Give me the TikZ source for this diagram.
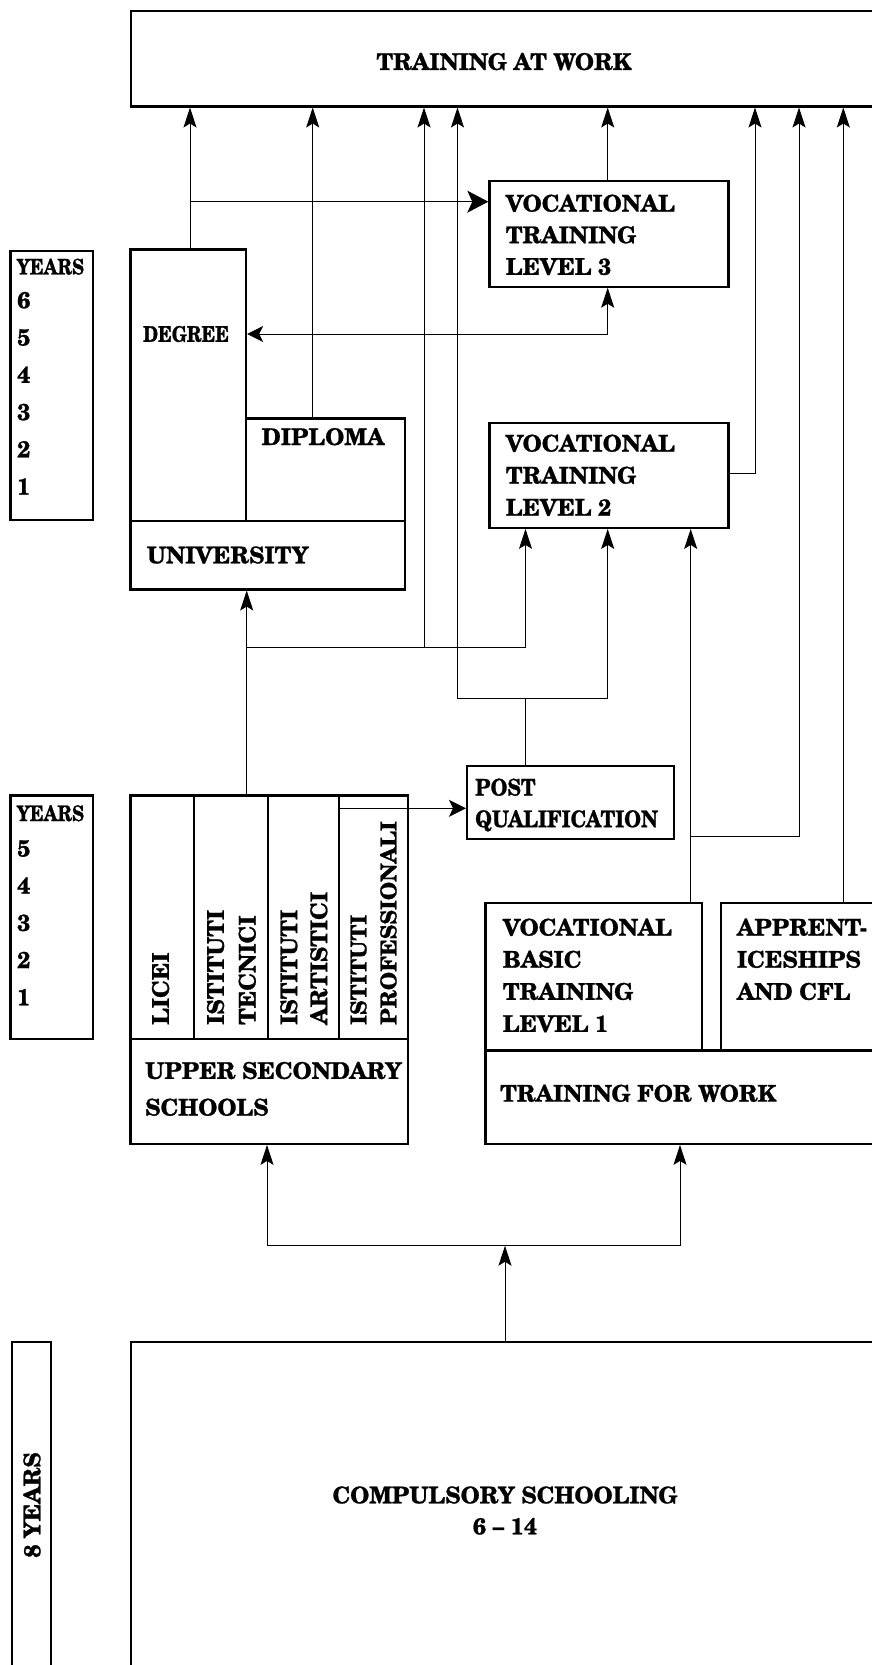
\documentclass[tikz,border=0pt]{standalone}
\usepackage{fontspec}
\setmainfont{texgyreschola}[Extension=.otf, UprightFont=*-regular, BoldFont=*-bold, ItalicFont=*-italic, BoldItalicFont=*-bolditalic, BoldFeatures={FakeBold=1}]
\usetikzlibrary{arrows.meta}
\tikzset{
  box/.style={draw, line width=2.2pt, inner sep=0pt, anchor=north west},
  lbl/.style={inner sep=0pt, font=\fontsize{23}{32}\selectfont\bfseries, align=left, anchor=north west},
  clbl/.style={inner sep=0pt, font=\fontsize{23}{31}\selectfont\bfseries, align=center, anchor=center},
  conn/.style={line width=1pt},
  tip/.style={-{Stealth[length=20pt,width=13pt,inset=4pt]}},
  bigtip/.style={-{Stealth[length=21pt,width=22pt,inset=5pt]}},
  pqtip/.style={-{Stealth[length=17pt,width=17pt,inset=4pt]}},
  dbltip/.style={{Stealth[length=16pt,width=16pt,inset=4pt]}-{Stealth[length=20pt,width=13pt,inset=4pt]}},
}
\newcommand{\cond}[1]{\scalebox{0.84}[1]{#1}}
\newcommand{\narrow}[1]{\scalebox{0.88}[1]{#1}}
\begin{document}
\begin{tikzpicture}[x=1pt,y=-1pt]
\useasboundingbox (0,0) rectangle (872,1665);
\fill[white] (0,0) rectangle (872,1665);
\clip (0,0) rectangle (872,1665);

% boxes
\node[box, minimum width=770, minimum height=95.3] (taw) at (129.6,10) {};
\node[box, minimum width=82.4, minimum height=268.7] (years1) at (9.3,250) {};
\node[box, minimum width=115.7, minimum height=271.7] (degree) at (129.3,248.3) {};
\node[box, minimum width=159, minimum height=102.7] (diploma) at (245,417.3) {};
\node[box, minimum width=274.7, minimum height=68.3] (univ) at (129.3,520) {};
\node[box, minimum width=239, minimum height=105.5] (vt3) at (488.3,180) {};
\node[box, minimum width=239, minimum height=105] (vt2) at (488.3,421.7) {};
\node[box, minimum width=206.7, minimum height=72.7] (pq) at (466,765) {};
\node[box, minimum width=82.4, minimum height=243.4] (years2) at (9.3,794.3) {};
\node[box, minimum width=277.4, minimum height=348.4] (uss) at (129.3,794.3) {};
\node[box, minimum width=63.4, minimum height=243.4] (licei) at (129.3,794.3) {};
\node[box, minimum width=74, minimum height=243.4] (tecnici) at (192.7,794.3) {};
\node[box, minimum width=71, minimum height=243.4] (artistici) at (266.7,794.3) {};
\node[box, minimum width=69, minimum height=243.4] (profess) at (337.7,794.3) {};
\node[box, minimum width=216.4, minimum height=147.6] (vbt) at (484.3,901.7) {};
\node[box, minimum width=200, minimum height=147.6] (app) at (720,901.7) {};
\node[box, minimum width=420, minimum height=93.4] (tfw) at (484.3,1049.3) {};
\node[box, minimum width=39, minimum height=400] (years3) at (11,1340.7) {};
\node[box, minimum width=800, minimum height=400] (cs) at (129.6,1341) {};

% texts
\node[clbl] (tawt) at (504,61.6) {TRAINING AT WORK};
\node[lbl, anchor=west, font=\fontsize{21.5}{32}\selectfont\bfseries] (y1t) at (16.7,266.7) {\cond{YEARS}};
\node[lbl, font=\fontsize{23}{37.3}\selectfont\bfseries] (y1n) at (17,291.7) {6\\5\\4\\3\\2\\1};
\node[clbl, font=\fontsize{21.5}{32}\selectfont\bfseries] (degt) at (186,334) {\cond{DEGREE}};
\node[clbl] (dipt) at (323,436.7) {DIPLOMA};
\node[lbl, anchor=west] (univt) at (146.7,555) {UNIVERSITY};
\node[lbl, font=\fontsize{23}{31.6}\selectfont\bfseries] (vt3t) at (505.7,194.4) {VOCATIONAL\\TRAINING\\LEVEL 3};
\node[lbl] (vt2t) at (505.7,434.4) {VOCATIONAL\\TRAINING\\LEVEL 2};
\node[lbl, font=\fontsize{23}{31.6}\selectfont\bfseries] (pqt) at (475,778.4) {\narrow{POST}\\\narrow{QUALIFICATION}};
\node[lbl, anchor=west, font=\fontsize{21.5}{32}\selectfont\bfseries] (y2t) at (16.7,813.3) {\cond{YEARS}};
\node[lbl, font=\fontsize{23}{37.2}\selectfont\bfseries] (y2n) at (17,840) {5\\4\\3\\2\\1};
\node[lbl, rotate=90] (liceit) at (151.7,1025) {LICEI};
\node[lbl, rotate=90, font=\fontsize{23}{31.7}\selectfont\bfseries] (tecnicit) at (206.7,1025) {ISTITUTI\\TECNICI};
\node[lbl, rotate=90, font=\fontsize{23}{30}\selectfont\bfseries] (artisticit) at (280,1025) {ISTITUTI\\ARTISTICI};
\node[lbl, rotate=90, font=\fontsize{22}{30}\selectfont\bfseries] (professt) at (350,1025) {ISTITUTI\\PROFESSIONALI};
\node[lbl, font=\fontsize{23}{36.7}\selectfont\bfseries] (usst) at (145,1061.7) {UPPER SECONDARY\\SCHOOLS};
\node[lbl, font=\fontsize{23}{32.1}\selectfont\bfseries] (vbtt) at (502.7,918.4) {VOCATIONAL\\BASIC\\TRAINING\\LEVEL 1};
\node[lbl, font=\fontsize{23}{32.1}\selectfont\bfseries] (appt) at (736.7,918.4) {APPRENT-\\ICESHIPS\\AND CFL};
\node[lbl, anchor=west] (tfwt) at (500,1093.3) {TRAINING FOR WORK};
\node[clbl, rotate=90] (y3t) at (32,1505) {8 YEARS};
\node[clbl] (cst) at (505,1510.5) {COMPULSORY SCHOOLING\\6 -- 14};

% connector guide coordinates
\coordinate (xa) at (190,0);
\coordinate (xb) at (312.7,0);
\coordinate (xc) at (424,0);
\coordinate (xd) at (457.5,0);
\coordinate (xe) at (607.7,0);
\coordinate (xf) at (755,0);
\coordinate (xg) at (799,0);
\coordinate (xh) at (843.3,0);
\coordinate (xu) at (246.7,0);
\coordinate (xv) at (525.5,0);
\coordinate (xw) at (690.7,0);
\coordinate (xs) at (267,0);
\coordinate (xt) at (680,0);
\coordinate (xcs) at (505,0);
\coordinate (ya) at (0,201.7);
\coordinate (yb) at (0,334);
\coordinate (yc) at (0,647.3);
\coordinate (yd) at (0,698);
\coordinate (ye) at (0,473.3);
\coordinate (yf) at (0,836.7);
\coordinate (yg) at (0,808.3);
\coordinate (yh) at (0,1245.7);

% connectors
\draw[conn,tip] (xa |- degree.north) -- (xa |- taw.south);
\draw[conn,bigtip] (xa |- ya) -- (ya -| vt3.west);
\draw[conn,tip] (xb |- diploma.north) -- (xb |- taw.south);
\draw[conn,tip] (xu |- uss.north) -- (xu |- univ.south);
\draw[conn,tip] (xu |- yc) -- (xv |- yc) -- (xv |- vt2.south);
\draw[conn,tip] (xc |- yc) -- (xc |- taw.south);
\draw[conn,tip] (xv |- pq.north) -- (xv |- yd) -- (xd |- yd) -- (xd |- taw.south);
\draw[conn,tip] (xv |- yd) -- (xe |- yd) -- (xe |- vt2.south);
\draw[conn,tip] (xe |- vt3.north) -- (xe |- taw.south);
\draw[conn,dbltip] (yb -| degree.east) -- (xe |- yb) -- (xe |- vt3.south);
\draw[conn,tip] (ye -| vt2.east) -- (xf |- ye) -- (xf |- taw.south);
\draw[conn,tip] (xw |- vbt.north) -- (xw |- vt2.south);
\draw[conn,tip] (xw |- yf) -- (xg |- yf) -- (xg |- taw.south);
\draw[conn,tip] (xh |- app.north) -- (xh |- taw.south);
\draw[conn,pqtip] (yg -| profess.west) -- (yg -| pq.west);
\draw[conn,tip] (xcs |- cs.north) -- (xcs |- yh);
\draw[conn,tip] (xs |- yh) -- (xs |- uss.south);
\draw[conn,tip] (xs |- yh) -- (xt |- yh) -- (xt |- tfw.south);
\end{tikzpicture}
\end{document}
